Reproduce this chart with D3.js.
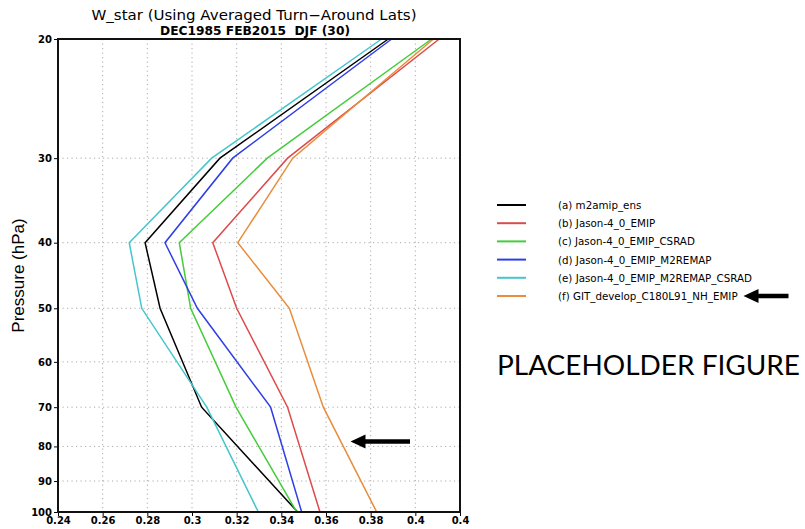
<!DOCTYPE html>
<html>
<head>
<meta charset="utf-8">
<script src="https://cdn.jsdelivr.net/npm/d3@7"></script>
<style>
  html, body { margin: 0; padding: 0; background: #fff; }
  svg { display: block; }
</style>
</head>
<body>
<svg id="chart" width="805" height="529"></svg>
<script>
// Pressure levels (hPa) at which W* profiles are sampled
const levels = [20, 30, 40, 50, 70, 100];

// W* values per experiment, one value per pressure level
const m2amipEns        = [0.3879, 0.3125, 0.2790, 0.2857, 0.3043, 0.3473];
const jasonEmip        = [0.4107, 0.3428, 0.3093, 0.3200, 0.3428, 0.3573];
const jasonCsrad       = [0.4073, 0.3337, 0.2943, 0.2994, 0.3197, 0.3469];
const jasonM2remap     = [0.3894, 0.3182, 0.2879, 0.3024, 0.3352, 0.3491];
const jasonM2remapCs   = [0.3849, 0.3088, 0.2719, 0.2775, 0.3066, 0.3297];
const gitDevelopNh     = [0.4081, 0.3451, 0.3205, 0.3436, 0.3588, 0.3827];

const seriesNames = [
  "(a) m2amip_ens",
  "(b) Jason-4_0_EMIP",
  "(c) Jason-4_0_EMIP_CSRAD",
  "(d) Jason-4_0_EMIP_M2REMAP",
  "(e) Jason-4_0_EMIP_M2REMAP_CSRAD",
  "(f) GIT_develop_C180L91_NH_EMIP"
];
const seriesValues = [m2amipEns, jasonEmip, jasonCsrad, jasonM2remap, jasonM2remapCs, gitDevelopNh];
const seriesColors = ["#000000", "#dd4a4a", "#44cc3a", "#2f3fe6", "#45c6cc", "#e88d3a"];

// Axis ticks
const xTickValues = [0.24, 0.26, 0.28, 0.30, 0.32, 0.34, 0.36, 0.38, 0.40, 0.42];
const xTickLabels = ["0.24", "0.26", "0.28", "0.3", "0.32", "0.34", "0.36", "0.38", "0.4", "0.4"];
const yTickValues = [20, 30, 40, 50, 60, 70, 80, 90, 100];
const yTickLabels = ["20", "30", "40", "50", "60", "70", "80", "90", "100"];

const svg = d3.select("#chart");
const plot = { left: 58, right: 460, top: 39, bottom: 512 };

const x = d3.scaleLinear().domain([0.24, 0.42]).range([plot.left, plot.right]);
const y = d3.scaleLog().domain([20, 100]).range([plot.top, plot.bottom]);

const tickFont = "'DejaVu Sans', sans-serif";

// Dotted grid
const grid = svg.append("g");
grid.selectAll("line.vg")
  .data(xTickValues.slice(1, -1))
  .join("line")
  .attr("x1", d => x(d)).attr("x2", d => x(d))
  .attr("y1", plot.top).attr("y2", plot.bottom)
  .attr("stroke", "#aaaaaa").attr("stroke-width", 1)
  .attr("stroke-dasharray", "1.2,3.3");
grid.selectAll("line.hg")
  .data(yTickValues.slice(1, -1))
  .join("line")
  .attr("x1", plot.left).attr("x2", plot.right)
  .attr("y1", d => y(d)).attr("y2", d => y(d))
  .attr("stroke", "#aaaaaa").attr("stroke-width", 1)
  .attr("stroke-dasharray", "1.2,3.3");

// Profiles
const line = d3.line()
  .x(d => x(d.v))
  .y(d => y(d.p));

svg.append("g").selectAll("path")
  .data(seriesValues.map((vals, i) => ({ i, pts: vals.map((v, k) => ({ v, p: levels[k] })) })))
  .join("path")
  .attr("d", d => line(d.pts))
  .attr("fill", "none")
  .attr("stroke", d => seriesColors[d.i])
  .attr("stroke-width", 1.5)
  .attr("stroke-linejoin", "miter");

// Axes
const xAxis = d3.axisBottom(x)
  .tickValues(xTickValues)
  .tickSize(4)
  .tickFormat((d, i) => xTickLabels[i]);
const gx = svg.append("g").attr("transform", `translate(0,${plot.bottom})`).call(xAxis);
gx.select(".domain").remove();
gx.selectAll(".tick line").attr("stroke", "#000");
gx.selectAll(".tick text")
  .attr("font-family", tickFont).attr("font-size", 10).attr("font-weight", "bold")
  .attr("fill", "#000").attr("dy", "0.45em");

const yAxis = d3.axisLeft(y)
  .tickValues(yTickValues)
  .tickSize(4)
  .tickFormat((d, i) => yTickLabels[i]);
const gy = svg.append("g").attr("transform", `translate(${plot.left},0)`).call(yAxis);
gy.select(".domain").remove();
gy.selectAll(".tick line").attr("stroke", "#000");
gy.selectAll(".tick text")
  .attr("font-family", tickFont).attr("font-size", 10).attr("font-weight", "bold")
  .attr("fill", "#000").attr("x", -6);

// Frame
svg.append("rect")
  .attr("x", plot.left).attr("y", plot.top)
  .attr("width", plot.right - plot.left).attr("height", plot.bottom - plot.top)
  .attr("fill", "none").attr("stroke", "#111").attr("stroke-width", 2);

// Titles
svg.append("text")
  .attr("x", 254).attr("y", 20)
  .attr("text-anchor", "middle")
  .attr("font-family", tickFont).attr("font-size", 13.5)
  .attr("textLength", 325).attr("lengthAdjust", "spacingAndGlyphs")
  .text("W_star (Using Averaged Turn\u2212Around Lats)");
svg.append("text")
  .attr("x", 255).attr("y", 34.5)
  .attr("text-anchor", "middle")
  .attr("font-family", tickFont).attr("font-size", 12.5).attr("font-weight", "bold")
  .attr("xml:space", "preserve")
  .attr("textLength", 190).attr("lengthAdjust", "spacingAndGlyphs")
  .text("DEC1985 FEB2015  DJF (30)");

svg.append("text")
  .attr("transform", `translate(24,${(plot.top + plot.bottom) / 2}) rotate(-90)`)
  .attr("text-anchor", "middle")
  .attr("font-family", "'Liberation Sans', Arial, sans-serif").attr("font-size", 17)
  .text("Pressure (hPa)");

// Legend
const legend = svg.append("g");
const legendY0 = 205, legendStep = 18.2;
seriesNames.forEach((name, i) => {
  const ly = legendY0 + i * legendStep;
  legend.append("line")
    .attr("x1", 497).attr("x2", 526)
    .attr("y1", ly).attr("y2", ly)
    .attr("stroke", seriesColors[i]).attr("stroke-width", 2);
  legend.append("text")
    .attr("x", 558).attr("y", ly + 4)
    .attr("font-family", tickFont).attr("font-size", 10.3)
    .text(name);
});

// Arrows
function arrow(tipX, tipY, tailX) {
  const g = svg.append("g");
  g.append("line")
    .attr("x1", tipX + 10).attr("x2", tailX)
    .attr("y1", tipY).attr("y2", tipY)
    .attr("stroke", "#000").attr("stroke-width", 4.5);
  g.append("path")
    .attr("d", `M${tipX},${tipY} L${tipX + 15},${tipY - 7} L${tipX + 15},${tipY + 7} Z`)
    .attr("fill", "#000");
}
arrow(350.5, 441.5, 410);
arrow(743.5, 296, 788.5);

// Placeholder note
svg.append("text")
  .attr("x", 497).attr("y", 375)
  .attr("font-family", "Lato, 'Open Sans', sans-serif").attr("font-size", 27)
  .attr("textLength", 303).attr("lengthAdjust", "spacingAndGlyphs")
  .text("PLACEHOLDER FIGURE");
</script>
</body>
</html>
